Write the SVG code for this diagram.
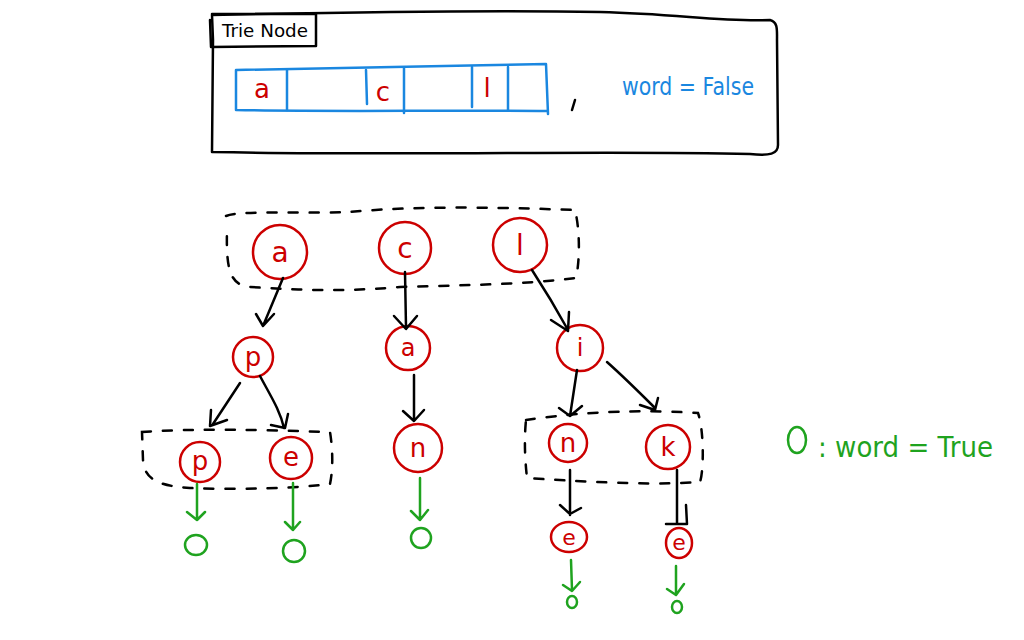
<svg xmlns="http://www.w3.org/2000/svg" width="1024" height="640" viewBox="0 0 1024 640">
<defs>
<style>
.ink{fill:none;stroke:#000;stroke-width:2.5;stroke-linecap:round;stroke-linejoin:round}
.dash{fill:none;stroke:#000;stroke-width:2.5;stroke-dasharray:9 12;stroke-linecap:round}
.blue{fill:none;stroke:#1a87e0;stroke-width:2.5;stroke-linecap:round;stroke-linejoin:round}
.node{fill:none;stroke:#cc0000;stroke-width:2.5}
.grn{fill:none;stroke:#1fa31f;stroke-width:2.5;stroke-linecap:round;stroke-linejoin:round}
.lbl{font-family:"DejaVu Sans","Liberation Sans",sans-serif;fill:#cc0000;text-anchor:middle}
.hand{font-family:"DejaVu Sans","Liberation Sans",sans-serif}
</style>
</defs>
<rect width="1024" height="640" fill="#fff"/>

<g id="trie-node-box">
<path class="ink" d="M212,15 C350,12 500,10 600,12 C680,14 720,22 770,20 C778,22 777,30 777,40 L778,145 C778,154 770,156 750,154 C600,150 420,156 212,152 L213,40 Z"/>
<path class="ink" d="M210,20 L211,47 L316,46 L316,14 L212,14"/>
<text class="hand" x="222" y="37" font-size="18" fill="#000" textLength="86" lengthAdjust="spacingAndGlyphs">Trie Node</text>
</g>

<g id="array">
<path class="blue" d="M236,70 L236,110 C330,112 440,110 548,111 M236,70 C330,68 440,66 546,64 L548,114"/>
<path class="blue" d="M287,70 L287,110 M366,70 L367,104 M404,68 L404,113 M472,67 L472,107 M508,67 L508,110"/>
<text class="lbl" x="262" y="98" font-size="26">a</text>
<text class="lbl" x="383" y="101" font-size="26">c</text>
<text class="lbl" x="487" y="97" font-size="26">l</text>
<path class="ink" d="M575,100 L572,110"/>
<text class="hand" x="622" y="95" font-size="25" fill="#1a87e0" textLength="132" lengthAdjust="spacingAndGlyphs">word = False</text>
</g>

<g id="groups">
<path class="dash" d="M226,216 C240,210 300,214 350,212 C420,205 520,208 575,210 C580,230 580,260 576,278 C520,285 460,285 400,287 C340,292 300,290 250,287 C230,285 226,270 227,230"/>
<path class="dash" d="M142,432 C200,428 260,430 330,432 C333,450 333,470 330,484 C300,488 240,490 190,488 C160,486 144,480 143,460 Z"/>
<path class="dash" d="M526,420 C560,415 620,408 698,413 C704,430 704,470 700,482 C660,485 600,483 527,478 C525,460 524,440 526,420"/>
</g>

<g id="node-a"><circle class="node" cx="280" cy="252" r="27"/><text class="lbl" x="280" y="262" font-size="28">a</text></g>
<g id="node-c"><circle class="node" cx="405" cy="248" r="26"/><text class="lbl" x="405" y="258" font-size="28">c</text></g>
<g id="node-l"><circle class="node" cx="520" cy="245" r="27"/><text class="lbl" x="520" y="255" font-size="28">l</text></g>
<g id="node-p1"><circle class="node" cx="253" cy="357" r="20"/><text class="lbl" x="253" y="366" font-size="26">p</text></g>
<g id="node-a2"><circle class="node" cx="408" cy="348" r="22"/><text class="lbl" x="408" y="356" font-size="24">a</text></g>
<g id="node-i"><circle class="node" cx="580" cy="348" r="23"/><text class="lbl" x="580" y="356" font-size="24">i</text></g>
<g id="node-p2"><circle class="node" cx="200" cy="462" r="20"/><text class="lbl" x="200" y="470" font-size="26">p</text></g>
<g id="node-e1"><circle class="node" cx="291" cy="458" r="21"/><text class="lbl" x="291" y="466" font-size="26">e</text></g>
<g id="node-n1"><circle class="node" cx="418" cy="448" r="24"/><text class="lbl" x="418" y="457" font-size="26">n</text></g>
<g id="node-n2"><circle class="node" cx="568" cy="443" r="19"/><text class="lbl" x="568" y="452" font-size="26">n</text></g>
<g id="node-k"><circle class="node" cx="668" cy="447" r="22"/><text class="lbl" x="668" y="456" font-size="26">k</text></g>
<g id="node-e2"><ellipse class="node" cx="569" cy="537" rx="18" ry="15"/><text class="lbl" x="569" y="545" font-size="22">e</text></g>
<g id="node-e3"><ellipse class="node" cx="679" cy="543" rx="13" ry="15"/><text class="lbl" x="679" y="550" font-size="22">e</text></g>

<g id="connectors">
<path class="ink" d="M283,278 L263,326 M256,314 L263,326 L274,314"/>
<path class="ink" d="M405,272 L406,327 M394,316 L406,329 L417,316"/>
<path class="ink" d="M532,270 C545,290 557,310 568,330 M551,320 L568,331 L569,312"/>
<path class="ink" d="M240,383 L213,424 M211,410 L210,426 L227,420"/>
<path class="ink" d="M260,376 C270,395 280,410 284,428 M271,425 L285,428 L288,414"/>
<path class="ink" d="M414,375 L414,420 M403,411 L414,421 L424,410"/>
<path class="ink" d="M577,370 L570,416 M559,408 L570,416 L582,406"/>
<path class="ink" d="M607,362 C625,378 640,393 655,408 M640,405 L655,410 L658,398"/>
<path class="ink" d="M570,470 L570,515 M560,505 L570,514 L581,508"/>
<path class="ink" d="M677,470 L677,524 M666,524 L687,524 L686,505"/>
</g>

<g id="word-markers">
<path class="grn" d="M197,484 L197,520 M187,512 L197,520 L205,512"/>
<path class="grn" d="M293,483 L293,530 M285,522 L293,530 L300,522"/>
<path class="grn" d="M420,478 L420,520 M411,511 L420,520 L428,510"/>
<path class="grn" d="M571,560 L572,590 M563,585 L572,591 L580,582"/>
<path class="grn" d="M676,566 L676,594 M667,589 L676,595 L684,584"/>
<ellipse class="grn" cx="196" cy="545" rx="11" ry="10"/>
<ellipse class="grn" cx="294" cy="551" rx="11" ry="11"/>
<ellipse class="grn" cx="421" cy="538" rx="10" ry="10"/>
<ellipse class="grn" cx="572" cy="602" rx="5" ry="6"/>
<ellipse class="grn" cx="677" cy="607" rx="5" ry="6"/>
</g>

<g id="legend">
<ellipse class="grn" cx="797" cy="440" rx="9" ry="13"/>
<text class="hand" x="818" y="457" font-size="28" fill="#1fa31f" textLength="175" lengthAdjust="spacingAndGlyphs">:  word = True</text>
</g>
</svg>
